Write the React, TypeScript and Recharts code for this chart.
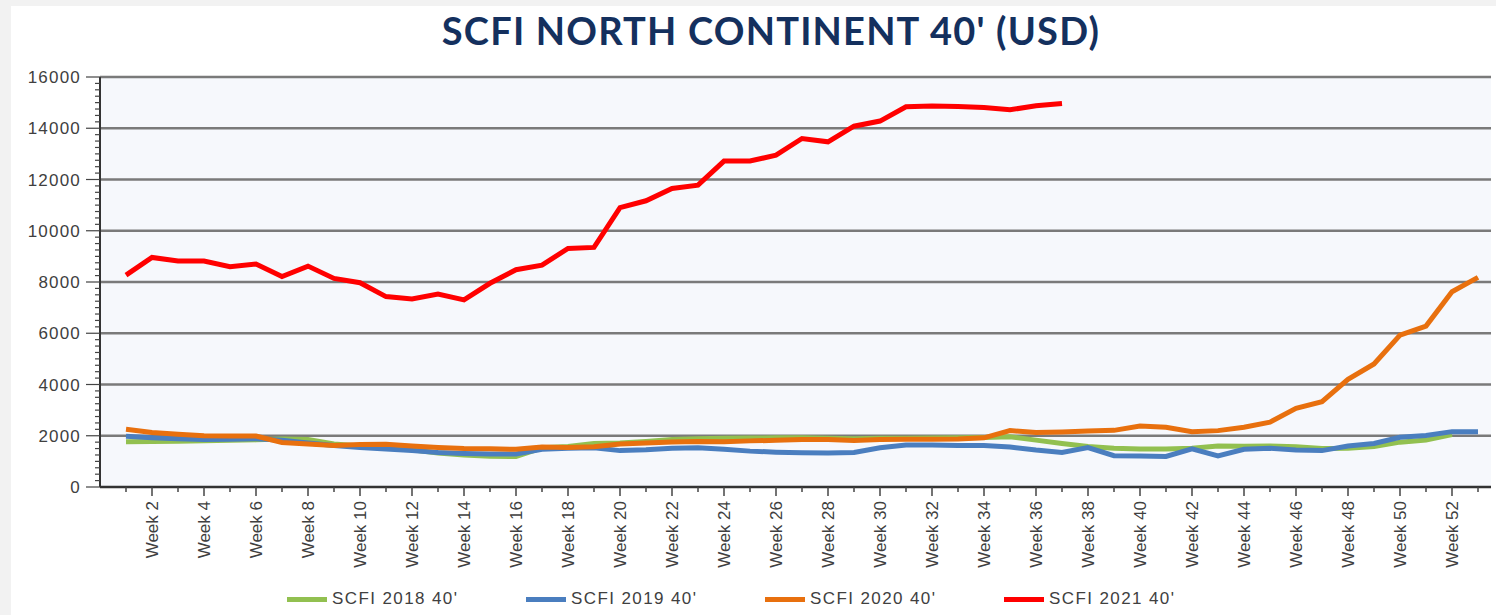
import { CartesianGrid, Legend, Line, LineChart, ReferenceLine, XAxis, YAxis } from 'recharts';

// week numbers 1..53
const weeks = [
  1, 2, 3, 4, 5, 6, 7, 8, 9, 10, 11, 12, 13, 14, 15, 16, 17, 18, 19, 20, 21, 22, 23, 24, 25, 26, 27,
  28, 29, 30, 31, 32, 33, 34, 35, 36, 37, 38, 39, 40, 41, 42, 43, 44, 45, 46, 47, 48, 49, 50, 51, 52, 53,
];

const scfi2018 = [
  1770, 1780, 1790, 1800, 1820, 1840, 1870, 1850, 1680, 1600, 1550, 1450, 1330, 1250, 1200, 1190, 1530,
  1580, 1700, 1720, 1780, 1850, 1880, 1900, 1910, 1920, 1920, 1900, 1880, 1900, 1900, 1910, 1920, 1930,
  1960, 1830, 1700, 1580, 1510, 1480, 1480, 1510, 1600, 1590, 1600, 1570, 1500, 1510, 1580, 1750, 1830,
  2050,
];

const scfi2019 = [
  1980, 1920, 1880, 1850, 1860, 1880, 1820, 1720, 1620, 1540, 1480, 1420, 1350, 1310, 1290, 1290, 1470,
  1510, 1530, 1420, 1450, 1510, 1530, 1470, 1400, 1360, 1340, 1330, 1350, 1530, 1640, 1640, 1620, 1620,
  1560, 1440, 1350, 1540, 1220, 1210, 1190, 1490, 1210, 1470, 1510, 1440, 1420, 1600, 1700, 1940, 2010,
  2160, 2160,
];

const scfi2020 = [
  2250, 2130, 2060, 2000, 1990, 1990, 1740, 1680, 1620, 1660, 1670, 1600, 1540, 1500, 1490, 1470, 1560,
  1540, 1570, 1680, 1720, 1760, 1780, 1770, 1800, 1820, 1850, 1850, 1810, 1850, 1860, 1860, 1870, 1920,
  2200, 2130, 2150, 2190, 2210, 2380, 2330, 2160, 2200, 2330, 2530, 3070, 3330, 4200, 4800, 5930, 6280,
  7620, 8180,
];

const scfi2021 = [
  8270, 8960, 8820, 8820, 8600, 8700, 8210, 8620, 8140, 7970, 7430, 7340, 7530, 7300, 7950, 8480, 8660,
  9310, 9350, 10900, 11170, 11650, 11780, 12720, 12720, 12950, 13600, 13470, 14080, 14280, 14840, 14870,
  14850, 14810, 14720, 14880, 14970,
];

const seriesNames = ["SCFI 2018 40'", "SCFI 2019 40'", "SCFI 2020 40'", "SCFI 2021 40'"];
const seriesColors = ['#92c050', '#4a7ebf', '#e8700e', '#ff0000'];

const gridValues = [2000, 4000, 6000, 8000, 10000, 12000, 14000, 16000];
// minor ticks every 250, labels only on multiples of 2000
const yTicks = Array.from({ length: 65 }, (_, i) => i * 250);

const rows = weeks.map((w, i) => ({
  week: w,
  s2018: scfi2018[i] ?? null,
  s2019: scfi2019[i] ?? null,
  s2020: scfi2020[i] ?? null,
  s2021: scfi2021[i] ?? null,
}));

const FONT = '"Liberation Sans", Arial, sans-serif';

const XTick = ({ x, y, payload }: any) => {
  const even = payload.value % 2 === 0;
  return (
    <g>
      <line x1={x} x2={x} y1={y} y2={y + (even ? 9 : 5)} stroke="#444" strokeWidth={1.5} />
      {even && (
        <text
          x={x + 6}
          y={y + 14}
          transform={`rotate(-90 ${x + 6} ${y + 14})`}
          textAnchor="end"
          fontSize={17}
          fontFamily={FONT}
          fill="#404040"
        >
          {`Week ${payload.value}`}
        </text>
      )}
    </g>
  );
};

const YTick = ({ x, y, payload }: any) => {
  const major = payload.value % 2000 === 0;
  return (
    <g>
      <line x1={major ? x - 14 : x - 5} x2={x} y1={y} y2={y} stroke="#444" strokeWidth={1.2} />
      {major && (
        <text
          x={x - 19}
          y={y + 6}
          textAnchor="end"
          fontSize={17}
          letterSpacing={1.2}
          fontFamily={FONT}
          fill="#404040"
        >
          {payload.value}
        </text>
      )}
    </g>
  );
};

const renderLegend = ({ payload }: any) => (
  <div style={{ position: 'relative', height: 24 }}>
    {(payload || []).map((p: any, i: number) => (
      <div
        key={p.value}
        style={{
          position: 'absolute',
          left: 287 + i * 239,
          top: 0,
          height: 24,
          display: 'flex',
          alignItems: 'center',
          whiteSpace: 'nowrap',
        }}
      >
        <span style={{ display: 'inline-block', width: 40, height: 5, background: p.color }} />
        <span
          style={{
            marginLeft: 5,
            fontFamily: FONT,
            fontSize: 17,
            letterSpacing: 1.4,
            color: '#404040',
          }}
        >
          {p.value}
        </span>
      </div>
    ))}
  </div>
);

export default function App() {
  return (
    <div
      style={{
        position: 'absolute',
        left: 0,
        top: 0,
        width: 1496,
        height: 615,
        background: '#f2f2f2',
        overflow: 'hidden',
      }}
    >
      <div
        style={{
          position: 'absolute',
          left: 11,
          top: 6,
          width: 1485,
          height: 609,
          background: '#ffffff',
        }}
      />
      <div
        style={{
          position: 'absolute',
          left: 771,
          top: 7,
          transform: 'translateX(-50%)',
          whiteSpace: 'nowrap',
          fontFamily: 'Lato, "Open Sans", sans-serif',
          fontWeight: 700,
          fontSize: 38,
          color: '#14305e',
          letterSpacing: 1.2,
        }}
      >
        SCFI NORTH CONTINENT 40' (USD)
      </div>
      <div style={{ position: 'absolute', left: 0, top: 0 }}>
        <LineChart
          width={1496}
          height={615}
          data={rows}
          margin={{ top: 77, right: 5, left: 10, bottom: 8 }}
        >
          <CartesianGrid horizontal={false} vertical={false} fill="#f6f8fc" />
          {gridValues.map((v) => (
            <ReferenceLine key={v} y={v} stroke="#7a7a7a" strokeWidth={2.5} />
          ))}
          <XAxis
            dataKey="week"
            type="number"
            domain={[0, 53.5]}
            ticks={weeks}
            interval={0}
            tick={<XTick />}
            tickLine={false}
            tickSize={0}
            tickMargin={0}
            height={120}
            axisLine={{ stroke: '#333', strokeWidth: 2.5 }}
          />
          <YAxis
            type="number"
            domain={[0, 16000]}
            ticks={yTicks}
            interval={0}
            tick={<YTick />}
            tickLine={false}
            tickSize={0}
            tickMargin={0}
            width={90}
            axisLine={{ stroke: '#333', strokeWidth: 2 }}
          />
          <Legend
            verticalAlign="middle"
            align="center"
            layout="horizontal"
            wrapperStyle={{ top: 587, left: 0, width: 1496 }}
            content={renderLegend}
          />
          <Line
            dataKey="s2018"
            name={seriesNames[0]}
            stroke={seriesColors[0]}
            strokeWidth={5}
            dot={false}
            isAnimationActive={false}
          />
          <Line
            dataKey="s2019"
            name={seriesNames[1]}
            stroke={seriesColors[1]}
            strokeWidth={5}
            dot={false}
            isAnimationActive={false}
          />
          <Line
            dataKey="s2020"
            name={seriesNames[2]}
            stroke={seriesColors[2]}
            strokeWidth={5}
            dot={false}
            isAnimationActive={false}
          />
          <Line
            dataKey="s2021"
            name={seriesNames[3]}
            stroke={seriesColors[3]}
            strokeWidth={5}
            dot={false}
            isAnimationActive={false}
          />
        </LineChart>
      </div>
    </div>
  );
}
